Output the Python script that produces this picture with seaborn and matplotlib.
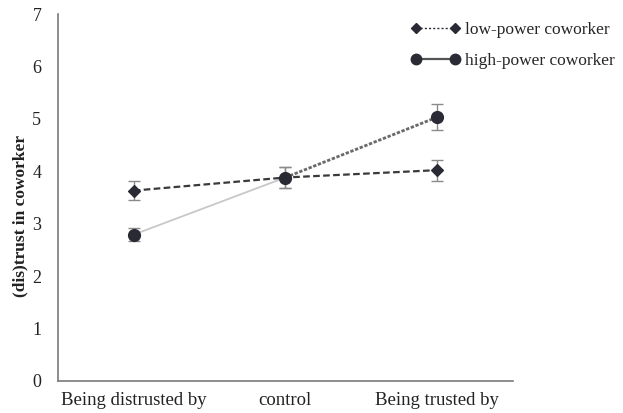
import matplotlib
matplotlib.use("Agg")
import matplotlib.pyplot as plt
from matplotlib.lines import Line2D
import seaborn as sns
import pandas as pd

# Conditions and cell means with standard errors
conditions = ["Being distrusted by", "control", "Being trusted by"]
low_power_mean = [3.63, 3.88, 4.02]
low_power_se = [0.18, 0.20, 0.20]
high_power_mean = [2.79, 3.88, 5.03]
high_power_se = [0.13, 0.20, 0.25]
series_labels = ["low-power coworker", "high-power coworker"]
y_ticks = [0, 1, 2, 3, 4, 5, 6, 7]

sns.set_style("white")
plt.rcParams["font.family"] = ["Liberation Serif", "DejaVu Serif"]

pos = list(range(len(conditions)))
low_df = pd.DataFrame({"pos": pos, "trust": low_power_mean})
high_df = pd.DataFrame({"pos": pos, "trust": high_power_mean})

fig = plt.figure(figsize=(6.23, 4.13), dpi=100)
ax = fig.add_axes([0.093, 0.078, 0.730, 0.888])

dark = "#2a2a35"
axis_gray = "#7a7a7a"
text_color = "#222222"

# error bars
ax.errorbar(pos, low_power_mean, yerr=low_power_se, fmt="none",
            ecolor="#8a8a8a", elinewidth=1.0, capsize=4, capthick=1.0, zorder=2)
ax.errorbar(pos, high_power_mean, yerr=high_power_se, fmt="none",
            ecolor="#8a8a8a", elinewidth=1.0, capsize=4, capthick=1.0, zorder=2)

# high-power coworker: first segment solid light gray, second dotted dark gray
sns.lineplot(data=high_df.iloc[:2], x="pos", y="trust", ax=ax, color="#c8c8c8",
             linewidth=1.3, zorder=3, legend=False)
sns.lineplot(data=high_df.iloc[1:], x="pos", y="trust", ax=ax, color="#6a6a6a",
             linewidth=2.0, linestyle=(0, (1.2, 0.6)), zorder=3, legend=False)
ax.scatter(pos, high_power_mean, s=72, marker="o", color=dark, zorder=5)

# low-power coworker: dashed line with diamonds
sns.lineplot(data=low_df, x="pos", y="trust", ax=ax, color="#3a3a3a",
             linewidth=1.6, linestyle=(0, (3, 1.5)), zorder=4, legend=False)
ax.scatter(pos, low_power_mean, s=36, marker="D", color=dark, zorder=6)

# axes styling
ax.set_xlim(-0.5, len(conditions) - 0.5)
ax.set_ylim(0, 7)
ax.set_yticks(y_ticks)
ax.set_yticklabels([str(t) for t in y_ticks], fontsize=13, color=text_color)
ax.set_xticks(pos)
ax.set_xticklabels(conditions, fontsize=13.5, color=text_color)
ax.set_xticks([p - 0.5 for p in pos] + [len(conditions) - 0.5], minor=True)
ax.tick_params(axis="x", which="major", length=0, pad=8)
ax.tick_params(axis="x", which="minor", direction="in", length=5, color=axis_gray, width=1)
ax.tick_params(axis="y", which="major", direction="in", length=4, color=axis_gray, width=1, pad=12)
ax.set_xlabel("")
ax.set_ylabel("(dis)trust in coworker", fontsize=12.5, fontweight="bold", color=text_color)
ax.yaxis.label.set_verticalalignment("center")
ax.yaxis.label.set_horizontalalignment("center")
ax.yaxis.set_label_coords(-0.083, 0.45)

for side in ["top", "right"]:
    ax.spines[side].set_visible(False)
for side in ["left", "bottom"]:
    ax.spines[side].set_color(axis_gray)
    ax.spines[side].set_linewidth(1.2)

handles = [
    Line2D([0], [0], color=dark, linestyle=(0, (1.5, 1.5)), linewidth=1.0,
           marker="D", markersize=5, markerfacecolor=dark, markeredgecolor=dark),
    Line2D([0], [0], color="#555555", linestyle="-", linewidth=1.6,
           marker="o", markersize=7.5, markerfacecolor=dark, markeredgecolor=dark),
]
fig.legend(handles, series_labels, loc="upper left", bbox_to_anchor=(0.635, 0.985),
           frameon=False, fontsize=12.5, numpoints=2, handlelength=2.8,
           handletextpad=0.3, labelspacing=0.85)

fig.savefig("out.png", dpi=100)
